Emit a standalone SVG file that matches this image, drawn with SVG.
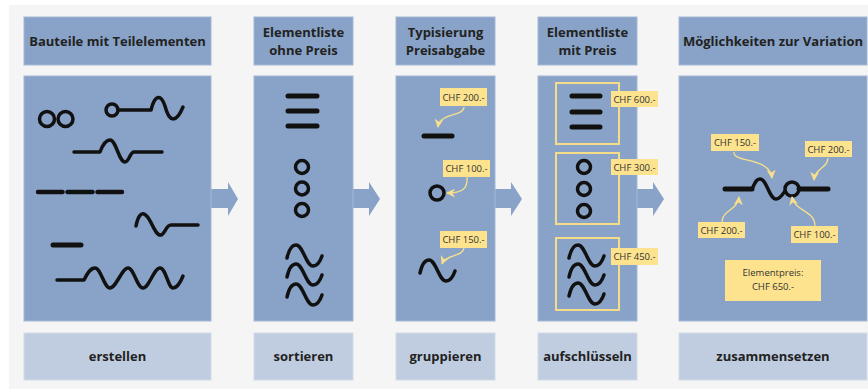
<svg xmlns="http://www.w3.org/2000/svg" width="868" height="390" viewBox="0 0 868 390">
<style>
.box{fill:#88a3c7;stroke:#a3b7d5;stroke-width:1}
.low{fill:#c0cde0;stroke:#d2dcea;stroke-width:1}
.flow{fill:#88a3c7}
.h{font-family:"Open Sans","Liberation Sans",sans-serif;font-weight:bold;font-size:13px;fill:#222;text-anchor:middle}
.lab{fill:#fde38e}
.lt{font-family:"Open Sans","Liberation Sans",sans-serif;font-size:9.5px;fill:#333;text-anchor:middle}
.k{fill:none;stroke:#111;stroke-linecap:round;stroke-linejoin:round}
.w{stroke-width:3.5}
.d{stroke-width:5}
.c{stroke-width:3.5}
.ya{fill:none;stroke:#f7df8c;stroke-width:1.3;marker-end:url(#ah)}
.yb{fill:none;stroke:#f5dc89;stroke-width:2}
</style>
<defs>
<marker id="ah" viewBox="0 0 10 10" refX="9" refY="5" markerUnits="userSpaceOnUse" markerWidth="9" markerHeight="9" orient="auto">
<path d="M0,0 L10,5 L0,10 L3,5 z" fill="#f7df8c"/>
</marker>
<path id="wave" d="M0,13 C2,4 5,0 9,0 C16,0 19,21 26,21 C30,21 33,17 35,11"/>
</defs>
<rect x="0" y="0" width="868" height="390" fill="#ffffff"/>
<rect x="9" y="5" width="859" height="384" fill="#f5f5f5"/>

<g id="connectors">
<polygon class="flow" points="210,189 228,189 228,182 238,199 228,216 228,208 210,208"/>
<polygon class="flow" points="352,189 369,189 369,182 380,199 369,216 369,208 352,208"/>
<polygon class="flow" points="494,189 511,189 511,182 522,199 511,216 511,208 494,208"/>
<polygon class="flow" points="636,189 653,189 653,182 664,199 653,216 653,208 636,208"/>
</g>

<g id="col1">
<rect class="box" x="24" y="17" width="187" height="48"/>
<text class="h" x="117.5" y="45.5">Bauteile mit Teilelementen</text>
<rect class="box" x="24" y="76" width="187" height="245"/>
<circle class="k c" cx="47" cy="119" r="7.5"/>
<circle class="k c" cx="65.5" cy="119" r="7.5"/>
<circle class="k c" cx="112" cy="110" r="6"/>
<path class="k w" d="M118,110 H151 C155,94 161,94 165,106 C169,122 176,124 183,107"/>
<path class="k w" d="M74,152 H100 C103,144 106,140 110,140 C116,140 119,162 125,162 C129,162 130,152 134,152 H162"/>
<path class="k" stroke-width="4.5" d="M38,192 H62.5 M67.5,192 H92.5 M97.5,192 H122"/>
<path class="k w" d="M136,226 C138,216 141,213 144,214 C151,216 154,236 161,235 C165,234 166,225 171,225 H198"/>
<path class="k d" d="M53,245 H81"/>
<path class="k w" d="M57,280 H84 C87,274 90,268 95,268 C101,268 104,288 110,288 C116,288 122,268 128,268 C134,268 137,288 143,288 C149,288 154,268 160,268 C166,268 168,288 173,288 C178,288 181,281 183,276"/>
<rect class="low" x="24" y="333" width="187" height="47"/>
<text class="h" x="117.5" y="361">erstellen</text>
</g>

<g id="col2">
<rect class="box" x="254" y="17" width="99" height="48"/>
<text class="h" x="303.5" y="37">Elementliste</text>
<text class="h" x="303.5" y="54.5">ohne Preis</text>
<rect class="box" x="254" y="76" width="99" height="245"/>
<path class="k d" d="M288,96 H317 M288,111 H317 M288,126 H317"/>
<circle class="k c" cx="302" cy="167" r="6.5"/>
<circle class="k c" cx="302" cy="188.5" r="6.5"/>
<circle class="k c" cx="302" cy="210" r="6.5"/>
<use href="#wave" class="k w" transform="translate(287,245)"/>
<use href="#wave" class="k w" transform="translate(287,264)"/>
<use href="#wave" class="k w" transform="translate(287,284)"/>
<rect class="low" x="254" y="333" width="99" height="47"/>
<text class="h" x="303.5" y="361">sortieren</text>
</g>

<g id="col3">
<rect class="box" x="396" y="17" width="99" height="48"/>
<text class="h" x="445.5" y="37">Typisierung</text>
<text class="h" x="445.5" y="54.5">Preisabgabe</text>
<rect class="box" x="396" y="76" width="99" height="245"/>
<path class="k d" d="M424,136 H452"/>
<circle class="k c" cx="437" cy="193" r="7"/>
<use href="#wave" class="k w" transform="translate(420,260)"/>
<path class="ya" d="M464,107 C464,117 440,112 438,127"/>
<path class="ya" d="M467,177 C468,189 462,193 447,193"/>
<path class="ya" d="M464,248 C463,257 446,254 442,264"/>
<rect class="lab" x="440" y="88" width="47" height="18"/>
<text class="lt" x="463.5" y="100.5">CHF 200.-</text>
<rect class="lab" x="443" y="160" width="47" height="17"/>
<text class="lt" x="466.5" y="172">CHF 100.-</text>
<rect class="lab" x="440" y="231" width="47" height="17"/>
<text class="lt" x="463.5" y="243">CHF 150.-</text>
<rect class="low" x="396" y="333" width="99" height="47"/>
<text class="h" x="445.5" y="361">gruppieren</text>
</g>

<g id="col4">
<rect class="box" x="538" y="17" width="99" height="48"/>
<text class="h" x="587.5" y="37">Elementliste</text>
<text class="h" x="587.5" y="54.5">mit Preis</text>
<rect class="box" x="538" y="76" width="99" height="245"/>
<rect class="yb" x="556" y="83" width="63" height="61"/>
<rect class="yb" x="556" y="153" width="63" height="71"/>
<rect class="yb" x="556" y="238" width="63" height="72"/>
<path class="k d" d="M572,96 H600 M572,112 H600 M572,127 H600"/>
<circle class="k c" cx="584" cy="167" r="6.5"/>
<circle class="k c" cx="584" cy="189" r="6.5"/>
<circle class="k c" cx="584" cy="211" r="6.5"/>
<use href="#wave" class="k w" transform="translate(569,245)"/>
<use href="#wave" class="k w" transform="translate(569,264)"/>
<use href="#wave" class="k w" transform="translate(569,283)"/>
<rect class="lab" x="611" y="91" width="47" height="16"/>
<text class="lt" x="634.5" y="102.5">CHF 600.-</text>
<rect class="lab" x="611" y="159" width="47" height="16"/>
<text class="lt" x="634.5" y="170.5">CHF 300.-</text>
<rect class="lab" x="611" y="248" width="47" height="17"/>
<text class="lt" x="634.5" y="260">CHF 450.-</text>
<rect class="low" x="538" y="333" width="99" height="47"/>
<text class="h" x="587.5" y="361">aufschlüsseln</text>
</g>

<g id="col5">
<rect class="box" x="679" y="17" width="188" height="48"/>
<text class="h" x="773" y="45.5">Möglichkeiten zur Variation</text>
<rect class="box" x="679" y="76" width="188" height="245"/>
<path class="k d" d="M725,189 H752"/>
<path class="k w" d="M752,189 C755,183 756,179 760,179 C767,179 769,199 776,199 C780,199 783,194 785,191"/>
<circle class="k c" cx="792" cy="189" r="7"/>
<path class="k d" d="M799,189 H828"/>
<path class="ya" d="M734,152 C733,163 770,157 772,178"/>
<path class="ya" d="M828,158 C828,168 815,168 814,180"/>
<path class="ya" d="M722,222 C722,210 738,210 739,197"/>
<path class="ya" d="M815,226 C815,210 795,212 792,197"/>
<rect class="lab" x="711" y="134" width="48" height="17"/>
<text class="lt" x="735" y="146">CHF 150.-</text>
<rect class="lab" x="805" y="141" width="47" height="16"/>
<text class="lt" x="828.5" y="152.5">CHF 200.-</text>
<rect class="lab" x="698" y="222" width="47" height="16"/>
<text class="lt" x="721.5" y="233.5">CHF 200.-</text>
<rect class="lab" x="791" y="226" width="47" height="17"/>
<text class="lt" x="814.5" y="238">CHF 100.-</text>
<rect class="lab" x="725" y="260" width="96" height="41"/>
<text class="lt" x="773" y="276" font-size="10">Elementpreis:</text>
<text class="lt" x="773" y="290" font-size="10">CHF 650.-</text>
<rect class="low" x="679" y="333" width="188" height="47"/>
<text class="h" x="773" y="361">zusammensetzen</text>
</g>
</svg>
